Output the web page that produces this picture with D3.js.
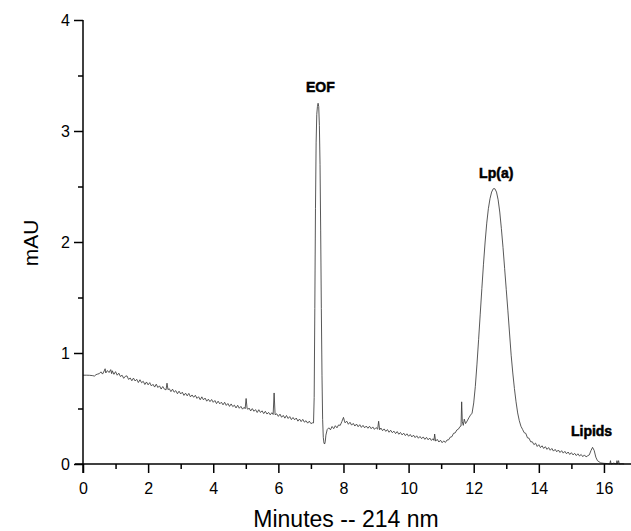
<!DOCTYPE html>
<html><head><meta charset="utf-8">
<script src="https://cdn.jsdelivr.net/npm/d3@7"></script>
<style>body{margin:0;background:#fff}svg{display:block}</style>
</head><body><div id="chart"></div>
<script>
const xTicks = [0, 2, 4, 6, 8, 10, 12, 14, 16];
const yTicks = [0, 1, 2, 3, 4];
const xLabel = "Minutes -- 214 nm";
const yLabel = "mAU";
const peakNames = ["EOF", "Lp(a)", "Lipids"];
const peakTimes = [7.23, 12.63, 15.65];
const peakHeights = [3.25, 2.48, 0.15];

// detector trace: [minutes, mAU]
const trace = [
[0.00,0.800],[0.10,0.800],[0.20,0.799],[0.30,0.796],[0.35,0.792],[0.40,0.805],[0.45,0.810],[0.50,0.814],[0.55,0.830],[0.60,0.810],
[0.65,0.838],[0.68,0.858],[0.70,0.820],[0.75,0.842],[0.80,0.824],[0.85,0.850],[0.88,0.814],[0.90,0.840],[0.95,0.808],[1.00,0.832],
[1.05,0.800],[1.10,0.818],[1.15,0.788],[1.20,0.800],[1.25,0.772],[1.30,0.790],[1.35,0.794],[1.40,0.762],[1.45,0.775],[1.50,0.750],
[1.55,0.774],[1.60,0.748],[1.65,0.763],[1.70,0.734],[1.75,0.759],[1.80,0.732],[1.85,0.745],[1.90,0.716],[1.95,0.739],[2.00,0.713],
[2.05,0.733],[2.10,0.703],[2.15,0.718],[2.20,0.693],[2.25,0.719],[2.30,0.689],[2.35,0.704],[2.40,0.675],[2.45,0.698],[2.50,0.674],
[2.55,0.668],[2.58,0.728],[2.61,0.670],[2.65,0.678],[2.70,0.652],[2.75,0.674],[2.80,0.647],[2.85,0.661],[2.90,0.633],[2.95,0.656],
[3.00,0.631],[3.05,0.647],[3.10,0.618],[3.15,0.638],[3.20,0.614],[3.25,0.636],[3.30,0.605],[3.35,0.622],[3.40,0.601],[3.45,0.619],
[3.50,0.591],[3.55,0.606],[3.60,0.579],[3.65,0.605],[3.70,0.578],[3.75,0.594],[3.80,0.566],[3.85,0.584],[3.90,0.562],[3.95,0.581],
[4.00,0.556],[4.05,0.572],[4.10,0.544],[4.15,0.566],[4.20,0.542],[4.25,0.557],[4.30,0.533],[4.35,0.556],[4.40,0.528],[4.45,0.545],
[4.50,0.519],[4.55,0.541],[4.60,0.517],[4.65,0.530],[4.70,0.505],[4.75,0.529],[4.80,0.502],[4.85,0.519],[4.90,0.494],[4.95,0.511],
[4.98,0.498],[5.01,0.590],[5.04,0.500],[5.07,0.492],[5.10,0.504],[5.15,0.478],[5.20,0.499],[5.25,0.475],[5.30,0.490],[5.35,0.464],
[5.40,0.489],[5.45,0.464],[5.50,0.479],[5.55,0.454],[5.60,0.475],[5.65,0.450],[5.70,0.465],[5.75,0.443],[5.80,0.462],[5.84,0.446],
[5.87,0.640],[5.90,0.444],[5.95,0.452],[6.00,0.429],[6.05,0.449],[6.10,0.421],[6.15,0.438],[6.20,0.413],[6.25,0.437],[6.30,0.410],
[6.35,0.427],[6.40,0.400],[6.45,0.419],[6.50,0.398],[6.55,0.414],[6.60,0.386],[6.65,0.405],[6.70,0.382],[6.75,0.402],[6.80,0.377],
[6.85,0.390],[6.90,0.368],[6.95,0.386],[7.00,0.364],[7.05,0.371],
[7.08,0.370],[7.10,0.600],[7.12,1.400],[7.14,2.300],[7.16,2.900],[7.18,3.150],[7.20,3.220],[7.22,3.250],[7.24,3.220],[7.26,3.050],
[7.28,2.700],[7.30,2.100],[7.32,1.400],[7.34,0.800],[7.36,0.400],[7.38,0.240],[7.40,0.190],[7.42,0.180],[7.44,0.200],[7.46,0.260],
[7.50,0.310],[7.55,0.326],[7.60,0.308],[7.65,0.338],[7.70,0.318],[7.75,0.345],[7.80,0.326],[7.85,0.352],[7.90,0.348],[7.95,0.382],
[8.00,0.420],[8.03,0.388],[8.05,0.371],[8.10,0.386],[8.15,0.358],[8.20,0.376],[8.25,0.350],[8.30,0.366],[8.35,0.342],[8.40,0.360],
[8.45,0.336],[8.50,0.354],[8.55,0.330],[8.60,0.348],[8.65,0.326],[8.70,0.342],[8.75,0.322],[8.80,0.340],[8.85,0.318],[8.90,0.334],
[8.95,0.312],[9.00,0.328],[9.05,0.314],[9.08,0.385],[9.11,0.308],[9.15,0.324],[9.20,0.300],[9.25,0.316],[9.30,0.294],[9.35,0.310],
[9.40,0.286],[9.45,0.304],[9.50,0.282],[9.55,0.296],[9.60,0.274],[9.65,0.292],[9.70,0.268],[9.75,0.284],[9.80,0.262],[9.85,0.278],
[9.90,0.256],[9.95,0.272],[10.00,0.250],[10.05,0.266],[10.10,0.244],[10.15,0.260],[10.20,0.238],[10.25,0.254],[10.30,0.232],[10.35,0.248],
[10.40,0.228],[10.45,0.244],[10.50,0.222],[10.55,0.240],[10.60,0.218],[10.65,0.234],[10.70,0.212],[10.75,0.228],[10.78,0.212],[10.80,0.270],
[10.83,0.206],[10.88,0.222],[10.93,0.198],[10.98,0.214],[11.03,0.192],[11.08,0.208],[11.13,0.194],[11.18,0.216],[11.23,0.218],[11.28,0.242],
[11.33,0.246],[11.38,0.276],[11.43,0.280],[11.48,0.306],[11.53,0.314],[11.58,0.338],[11.61,0.342],[11.63,0.560],[11.65,0.380],[11.68,0.348],
[11.71,0.404],[11.75,0.364],[11.80,0.388],[11.85,0.416],[11.90,0.440],[11.95,0.458],
[12.00,0.550],[12.05,0.700],[12.10,0.900],[12.15,1.120],[12.20,1.350],[12.25,1.580],[12.30,1.800],[12.35,2.000],[12.40,2.170],[12.45,2.300],
[12.50,2.390],[12.55,2.450],[12.60,2.480],[12.65,2.480],[12.70,2.450],[12.75,2.380],[12.80,2.270],[12.85,2.120],[12.90,1.950],[12.95,1.760],
[13.00,1.570],[13.05,1.380],[13.10,1.180],[13.15,0.980],[13.20,0.820],[13.25,0.680],[13.30,0.560],[13.35,0.460],
[13.40,0.390],[13.45,0.340],[13.50,0.312],[13.55,0.282],[13.60,0.276],[13.65,0.236],[13.70,0.232],[13.75,0.200],[13.80,0.200],[13.85,0.174],
[13.90,0.188],[13.95,0.158],[14.00,0.174],[14.05,0.148],[14.10,0.164],[14.15,0.140],[14.20,0.156],[14.25,0.132],[14.30,0.148],[14.35,0.124],
[14.40,0.140],[14.45,0.116],[14.50,0.132],[14.55,0.110],[14.60,0.126],[14.65,0.104],[14.70,0.120],[14.75,0.098],[14.80,0.114],[14.85,0.092],
[14.90,0.108],[14.95,0.086],[15.00,0.102],[15.05,0.082],[15.10,0.096],[15.15,0.076],[15.20,0.092],[15.25,0.072],[15.30,0.086],[15.35,0.066],
[15.40,0.082],[15.45,0.064],[15.50,0.074],[15.55,0.082],[15.60,0.120],[15.65,0.150],[15.70,0.122],[15.75,0.062],[15.80,0.030],[15.85,0.020],
[15.90,0.010],[16.00,0.006],[16.10,0.004],[16.18,0.000],[16.20,0.030],[16.22,0.000],[16.30,0.008],[16.38,0.000],[16.40,0.030],[16.42,0.000],
[16.45,0.030],[16.47,0.000],[16.55,0.002],[16.62,0.000]
];

const W = 631, H = 531;
const svg = d3.select("#chart").append("svg").attr("width", W).attr("height", H);
const x = d3.scaleLinear().domain([0, 16.8]).range([83, 630]);
const y = d3.scaleLinear().domain([0, 4]).range([464, 20]);

const font = "'Liberation Sans', Arial, sans-serif";

// trace
svg.append("path").datum(trace)
  .attr("fill", "none").attr("stroke", "#3a3a3a").attr("stroke-width", 0.85)
  .attr("d", d3.line().x(d => x(d[0])).y(d => y(d[1])));

// x axis
const gx = svg.append("g").attr("transform", "translate(0,464)");
gx.call(d3.axisBottom(x).tickValues(d3.range(0, 17, 1)).tickSize(0).tickFormat(""));
gx.select(".domain").remove();
gx.append("line").attr("x1", 75).attr("x2", 631).attr("stroke", "#000").attr("stroke-width", 1.5);
gx.selectAll(".tick line").remove();
gx.selectAll(".tick").append("line")
  .attr("y2", d => (d % 2 === 0 ? 9 : 5)).attr("stroke", "#000").attr("stroke-width", 1.5);
gx.selectAll(".tick").filter(d => xTicks.includes(d)).append("text")
  .attr("y", 30).attr("text-anchor", "middle").attr("fill", "#000")
  .style("font-family", font).style("font-size", "16px").text(d => d);

// y axis
const gy = svg.append("g").attr("transform", "translate(83,0)");
gy.call(d3.axisLeft(y).tickValues(d3.range(0, 4.01, 0.5)).tickSize(0).tickFormat(""));
gy.select(".domain").remove();
gy.append("line").attr("y1", 20).attr("y2", 473).attr("stroke", "#000").attr("stroke-width", 1.5);
gy.selectAll(".tick line").remove();
gy.selectAll(".tick").append("line")
  .attr("x2", d => (yTicks.includes(d) ? -9 : -5)).attr("stroke", "#000").attr("stroke-width", 1.5);
gy.selectAll(".tick").filter(d => yTicks.includes(d)).append("text")
  .attr("x", -13).attr("dy", "0.36em").attr("text-anchor", "end").attr("fill", "#000")
  .style("font-family", font).style("font-size", "16px").text(d => d);

// axis titles
svg.append("text").attr("x", 346).attr("y", 527).attr("text-anchor", "middle")
  .style("font-family", font).style("font-size", "23px").text(xLabel);
svg.append("text").attr("transform", "translate(38,243) rotate(-90)").attr("text-anchor", "middle")
  .style("font-family", font).style("font-size", "21px").text(yLabel);

// peak labels
svg.selectAll(".peak").data(peakNames).enter().append("text")
  .attr("x", (d, i) => x(peakTimes[i]) + (i === 2 ? -1 : 2))
  .attr("y", (d, i) => y(peakHeights[i]) - 11)
  .attr("text-anchor", "middle")
  .style("font-family", font).style("font-size", "14px").style("font-weight", "bold")
  .style("stroke", "#000").style("stroke-width", 0.5)
  .text(d => d);
</script></body></html>
